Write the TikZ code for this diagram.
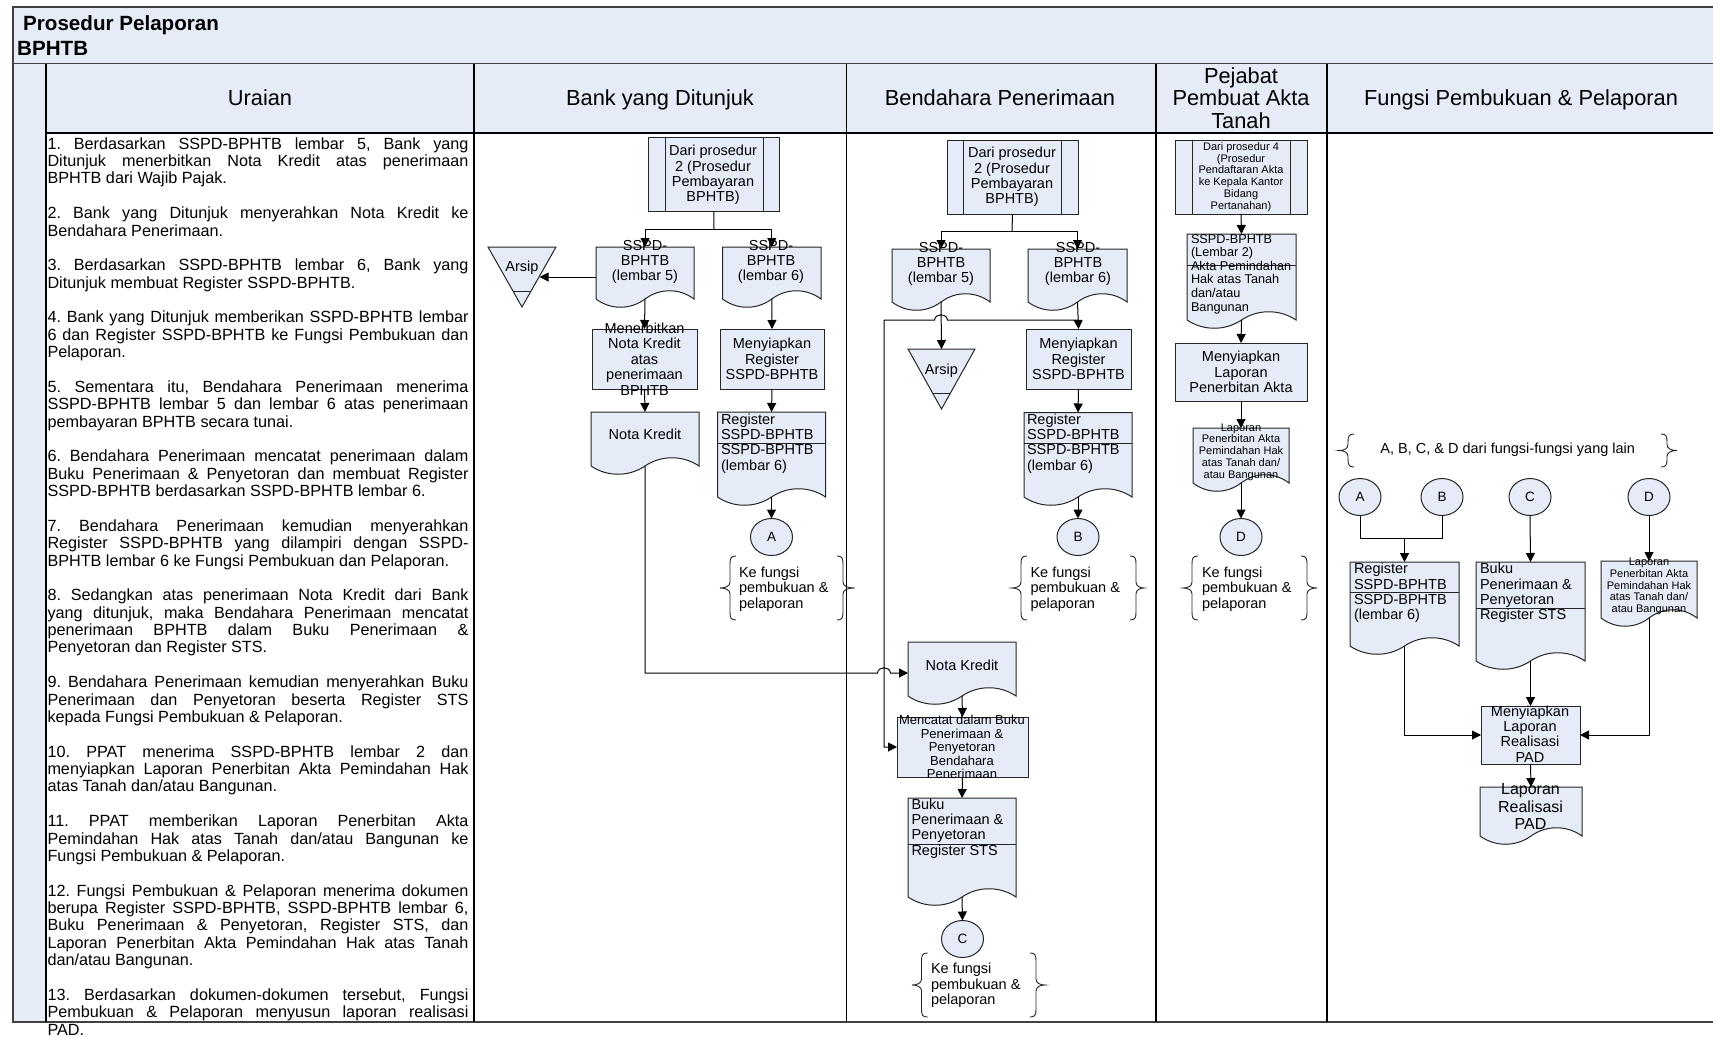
\documentclass[tikz,border=0pt]{standalone}
\usepackage{fontspec}
\setmainfont{Liberation Sans}
\usetikzlibrary{arrows.meta,shapes.geometric,calc}
\definecolor{paleblue}{HTML}{E5ECF7}
\definecolor{framegrey}{HTML}{404040}
\newcommand\fsz[2]{\fontsize{#1}{#2}\selectfont}
\newcommand\jl[1]{\hbox to 421pt{#1}\\}
\newcommand\gap{\mbox{}\\}
\frenchspacing
\tikzset{
  x=1pt,y=-1pt,
  frameline/.style={draw=framegrey,line width=1.8pt},
  colline/.style={draw=black,line width=1.1pt},
  shapeline/.style={draw=black!85,line width=1pt,fill=paleblue},
  anchorbox/.style={draw=none,fill=none,rectangle,inner sep=0pt,outer sep=0pt},
  conn/.style={draw=black,line width=1pt},
  arr/.style={conn,-{Triangle[length=9pt,width=9pt]}},
  procbox/.style={rectangle,draw=black!85,line width=1pt,fill=paleblue,inner sep=0pt,outer sep=0pt},
  circ/.style={ellipse,draw=black!85,line width=1pt,fill=paleblue,minimum width=42pt,minimum height=37pt,inner sep=0pt,outer sep=0pt,font=\fsz{13.5}{15}},
  txt/.style={align=center,inner sep=0pt,outer sep=0pt,font=\fsz{14.5}{15.4}},
  ltxt/.style={align=left,anchor=west,inner sep=0pt,outer sep=0pt,font=\fsz{14.5}{15.4}},
  smalltxt/.style={align=center,inner sep=0pt,outer sep=0pt,font=\fsz{11}{11.7}},
  headtxt/.style={align=center,inner sep=0pt,outer sep=0pt,font=\fsz{21.8}{22.6}},
  bracetxt/.style={align=left,anchor=west,inner sep=0pt,outer sep=0pt,font=\fsz{14.5}{15.5}},
  bracel/.style={draw=black!85,line width=0.9pt},
}
% name, x1, ytop, x2, y of wave ends
\newcommand\docshape[5]{%
  \pgfmathsetmacro\dw{#4-(#2)}%
  \pgfmathsetmacro\dxm{#2+0.5*\dw}%
  \pgfmathsetmacro\dcA{#2+0.15*\dw}%
  \pgfmathsetmacro\dcB{#2+0.35*\dw}%
  \pgfmathsetmacro\dcC{#2+0.65*\dw}%
  \pgfmathsetmacro\dcD{#2+0.85*\dw}%
  \pgfmathsetmacro\dyU{#5+11}%
  \pgfmathsetmacro\dyD{#5-11}%
  \pgfmathsetmacro\dym{0.5*(#3+#5)}%
  \pgfmathsetmacro\dh{#5-(#3)}%
  \draw[shapeline] (#2,#3) -- (#4,#3) -- (#4,#5)
     .. controls (\dcD,\dyD) and (\dcC,\dyD) .. (\dxm,#5)
     .. controls (\dcB,\dyU) and (\dcA,\dyU) .. (#2,#5) -- cycle;
  \node[anchorbox,minimum width=\dw pt,minimum height=\dh pt] (#1) at (\dxm,\dym) {};
}
% name, x1, x inner 1, x inner 2, x2, y1, y2
\newcommand\predef[7]{%
  \pgfmathsetmacro\dw{#5-(#2)}%
  \pgfmathsetmacro\dh{#7-(#6)}%
  \pgfmathsetmacro\dxm{0.5*(#2+#5)}%
  \pgfmathsetmacro\dym{0.5*(#6+#7)}%
  \node[procbox,minimum width=\dw pt,minimum height=\dh pt] (#1) at (\dxm,\dym) {};
  \draw[black!85,line width=1pt] (#3,#6) -- (#3,#7) (#4,#6) -- (#4,#7);
}
% name, x1, x2, y1, y2
\newcommand\procbox[5]{%
  \pgfmathsetmacro\dw{#3-(#2)}%
  \pgfmathsetmacro\dh{#5-(#4)}%
  \pgfmathsetmacro\dxm{0.5*(#2+#3)}%
  \pgfmathsetmacro\dym{0.5*(#4+#5)}%
  \node[procbox,minimum width=\dw pt,minimum height=\dh pt] (#1) at (\dxm,\dym) {};
}
% name, x1, x2, ytop, yapex, yinner
\newcommand\arsip[6]{%
  \pgfmathsetmacro\dw{#3-(#2)}%
  \pgfmathsetmacro\dh{#5-(#4)}%
  \pgfmathsetmacro\dxm{0.5*(#2+#3)}%
  \pgfmathsetmacro\dym{0.5*(#4+#5)}%
  \pgfmathsetmacro\dfr{(#6-(#4))/\dh*0.5*\dw}%
  \pgfmathsetmacro\dxa{#2+\dfr}%
  \pgfmathsetmacro\dxb{#3-\dfr}%
  \draw[shapeline] (#2,#4) -- (#3,#4) -- (\dxm,#5) -- cycle;
  \draw[black!85,line width=1pt] (\dxa,#6) -- (\dxb,#6);
  \node[anchorbox,minimum width=\dw pt,minimum height=\dh pt] (#1) at (\dxm,\dym) {};
}
% tip L, stem L, stem R, tip R, top, bottom
\newcommand\bracepair[6]{%
  \pgfmathsetmacro\mid{0.5*(#5+#6)}%
  \draw[bracel]
    ($(#2,#5)+(6,0)$) .. controls ($(#2,#5)+(1,0)$) and ($(#2,#5)+(0,2)$) .. ($(#2,#5)+(0,8)$)
    -- ($(#2,\mid)+(0,-6)$) .. controls ($(#2,\mid)+(0,-2)$) and ($(#2,\mid)+(-4,0)$) .. (#1,\mid)
    .. controls ($(#2,\mid)+(-4,0)$) and ($(#2,\mid)+(0,2)$) .. ($(#2,\mid)+(0,6)$)
    -- ($(#2,#6)+(0,-8)$) .. controls ($(#2,#6)+(0,-2)$) and ($(#2,#6)+(1,0)$) .. ($(#2,#6)+(6,0)$);
  \draw[bracel]
    ($(#3,#5)+(-6,0)$) .. controls ($(#3,#5)+(-1,0)$) and ($(#3,#5)+(0,2)$) .. ($(#3,#5)+(0,8)$)
    -- ($(#3,\mid)+(0,-6)$) .. controls ($(#3,\mid)+(0,-2)$) and ($(#3,\mid)+(4,0)$) .. (#4,\mid)
    .. controls ($(#3,\mid)+(4,0)$) and ($(#3,\mid)+(0,2)$) .. ($(#3,\mid)+(0,6)$)
    -- ($(#3,#6)+(0,-8)$) .. controls ($(#3,#6)+(0,-2)$) and ($(#3,#6)+(-1,0)$) .. ($(#3,#6)+(-6,0)$);
}
\begin{document}
\begin{tikzpicture}
\useasboundingbox (0,0) rectangle (1713,1036);
\fill[white] (0,0) rectangle (1713,1036);
% backgrounds
\fill[paleblue] (13,7) rectangle (1713,63.5);
\fill[paleblue] (13,63.5) rectangle (46,1022);
\fill[paleblue] (46,63.5) rectangle (1713,133);
% frame
\draw[frameline] (1713,7) -- (13,7) -- (13,1022) -- (1713,1022);
\draw[frameline] (13,63.5) -- (1713,63.5);
\draw[colline] (46,63.5) -- (46,1022);
\draw[colline] (46,133) -- (1713,133);
\draw[colline] (474,63.5) -- (474,1022);
\draw[colline] (846.4,63.5) -- (846.4,1022);
\draw[colline] (1156,63.5) -- (1156,1022);
\draw[colline] (1327,63.5) -- (1327,1022);
% title and headers
\node[inner sep=0pt,anchor=west,font=\bfseries\fsz{20.6}{22}] (titleA) at (23,25.5) {Prosedur Pelaporan};
\node[inner sep=0pt,anchor=west,font=\bfseries\fsz{20.6}{22}] (titleB) at (17,48.5) {BPHTB};
\node[headtxt,anchor=base] (hU) at (260,105.5) {Uraian};
\node[headtxt,anchor=base] (hB) at (660,105.5) {Bank yang Ditunjuk};
\node[headtxt,anchor=base] (hP) at (1000,105.5) {Bendahara Penerimaan};
\node[headtxt] (hA) at (1241,98) {Pejabat\\Pembuat Akta\\Tanah};
\node[headtxt,anchor=base] (hF) at (1521,105.5) {Fungsi Pembukuan \& Pelaporan};
% description text
\node[align=left,anchor=north west,inner sep=0pt,outer sep=0pt,font=\fsz{16.2}{17.37}] (uraian) at (47.5,137.5) {%
\jl{1. Berdasarkan SSPD-BPHTB lembar 5, Bank yang}
\jl{Ditunjuk menerbitkan Nota Kredit atas penerimaan}
BPHTB dari Wajib Pajak.\\
\gap
\jl{2. Bank yang Ditunjuk menyerahkan Nota Kredit ke}
Bendahara Penerimaan.\\
\gap
\jl{3. Berdasarkan SSPD-BPHTB lembar 6, Bank yang}
Ditunjuk membuat Register SSPD-BPHTB.\\
\gap
\jl{4. Bank yang Ditunjuk memberikan SSPD-BPHTB lembar}
\jl{6 dan Register SSPD-BPHTB ke Fungsi Pembukuan dan}
Pelaporan.\\
\gap
\jl{5. Sementara itu, Bendahara Penerimaan menerima}
\jl{SSPD-BPHTB lembar 5 dan lembar 6 atas penerimaan}
pembayaran BPHTB secara tunai.\\
\gap
\jl{6. Bendahara Penerimaan mencatat penerimaan dalam}
\jl{Buku Penerimaan \& Penyetoran dan membuat Register}
SSPD-BPHTB berdasarkan SSPD-BPHTB lembar 6.\\
\gap
\jl{7. Bendahara Penerimaan kemudian menyerahkan}
\jl{Register SSPD-BPHTB yang dilampiri dengan SSPD-}
BPHTB lembar 6 ke Fungsi Pembukuan dan Pelaporan.\\
\gap
\jl{8. Sedangkan atas penerimaan Nota Kredit dari Bank}
\jl{yang ditunjuk, maka Bendahara Penerimaan mencatat}
\jl{penerimaan BPHTB dalam Buku Penerimaan \&}
Penyetoran dan Register STS.\\
\gap
\jl{9. Bendahara Penerimaan kemudian menyerahkan Buku}
\jl{Penerimaan dan Penyetoran beserta Register STS}
kepada Fungsi Pembukuan \& Pelaporan.\\
\gap
\jl{10. PPAT menerima SSPD-BPHTB lembar 2 dan}
\jl{menyiapkan Laporan Penerbitan Akta Pemindahan Hak}
atas Tanah dan/atau Bangunan.\\
\gap
\jl{11. PPAT memberikan Laporan Penerbitan Akta}
\jl{Pemindahan Hak atas Tanah dan/atau Bangunan ke}
Fungsi Pembukuan \& Pelaporan.\\
\gap
\jl{12. Fungsi Pembukuan \& Pelaporan menerima dokumen}
\jl{berupa Register SSPD-BPHTB, SSPD-BPHTB lembar 6,}
\jl{Buku Penerimaan \& Penyetoran, Register STS, dan}
\jl{Laporan Penerbitan Akta Pemindahan Hak atas Tanah}
dan/atau Bangunan.\\
\gap
\jl{13. Berdasarkan dokumen-dokumen tersebut, Fungsi}
\jl{Pembukuan \& Pelaporan menyusun laporan realisasi}
PAD.};
% ---------- Bank
\predef{bp}{648}{665}{763}{779.5}{137}{211}
\docshape{bd5}{596}{247}{694}{299}
\docshape{bd6}{722.5}{247}{821}{299}
\arsip{bar}{488}{556}{247}{307}{291}
\procbox{bm1}{592}{697}{329}{389}
\procbox{bm2}{720}{824}{329}{389}
\docshape{bnk}{591}{412}{699}{466}
\docshape{breg}{717.5}{412}{825.5}{497}
\draw[black!85,line width=1pt] (717.5,443) -- (825.5,443);
\node[circ] (cA) at (771.5,537) {A};
\bracepair{720}{730}{843}{855}{556}{620}
% ---------- Bendahara
\predef{pp}{947}{963}{1061}{1078}{140}{214}
\docshape{pd5}{892}{249}{990}{302}
\docshape{pd6}{1028}{249}{1127}{302}
\arsip{par}{908}{975}{349}{409}{393}
\procbox{pm2}{1026}{1131}{329}{389}
\docshape{preg}{1024}{412.5}{1132}{497}
\draw[black!85,line width=1pt] (1024,443) -- (1132,443);
\node[circ] (cB) at (1078,537) {B};
\bracepair{1012}{1021}{1136}{1144}{556}{620}
\docshape{pnk}{908}{642}{1016}{696}
\procbox{pmc}{897}{1028}{717}{777}
\docshape{pbk}{908}{798}{1016}{897}
\draw[black!85,line width=1pt] (908,844) -- (1016,844);
\node[circ] (cC) at (962.5,939) {C};
\bracepair{912}{921.5}{1036}{1045}{953}{1017}
% ---------- PPAT
\predef{ap}{1175}{1192}{1290}{1307}{140}{214}
\docshape{adoc}{1187}{234}{1296}{320}
\draw[black!85,line width=1pt] (1187,265) -- (1296,265);
\procbox{am}{1175}{1307}{343}{401}
\docshape{alap}{1193}{428}{1289}{483}
\node[circ] (cD) at (1241,537) {D};
\bracepair{1183}{1192}{1307}{1317}{556}{620}
% ---------- Fungsi
\bracepair{1339}{1348}{1667}{1677}{434}{467}
\node[circ] (fA) at (1360,497) {A};
\node[circ] (fB) at (1442,497) {B};
\node[circ] (fC) at (1530,497) {C};
\node[circ] (fD) at (1649,497) {D};
\docshape{freg}{1350}{562}{1459}{646}
\draw[black!85,line width=1pt] (1350,592) -- (1459,592);
\docshape{fbk}{1476}{562}{1585}{661}
\draw[black!85,line width=1pt] (1476,608) -- (1585,608);
\docshape{flap}{1601}{561}{1697}{618}
\procbox{fm}{1481}{1580}{706}{764}
\docshape{fout}{1480}{787}{1582}{836}
% ---------- connectors
\coordinate (bj) at (714,229);
\draw[conn] (bp.south) -- (bj);
\draw[arr] (bj) -| (bd5.north);
\draw[arr] (bj) -| (bd6.north);
\coordinate (barIn) at (539.5,277);
\draw[arr] (bd5.west |- barIn) -- (barIn);
\draw[arr] (bd5.south) -- (bm1.north);
\draw[arr] (bd6.south) -- (bm2.north);
\draw[arr] (bm1.south) -- (bnk.north);
\draw[arr] (bm2.south) -- (breg.north);
\draw[arr] (breg.south) -- (cA.north);
\coordinate (pj) at (1012,231);
\draw[conn] (pp.south) -- (pj);
\draw[arr] (pj) -| (pd5.north);
\draw[arr] (pj) -| (pd6.north);
\draw[arr] (pd5.south) -- (par.north);
\draw[arr] (pd6.south) -- (pm2.north);
\draw[arr] (pm2.south) -- (preg.north);
\draw[arr] (preg.south) -- (cB.north);
\coordinate (tee) at (pm2.north |- 0,320);
\coordinate (jumpA) at (947.5,320);
\coordinate (jumpB) at (934.5,320);
\coordinate (elbow) at (884,320);
\draw[arr] (tee) -- (jumpA) .. controls (946.5,313) and (935.5,313) .. (jumpB) -- (elbow) |- (pmc.west);
\coordinate (nkIn) at (908,673);
\coordinate (jumpC) at (877.5,673);
\coordinate (jumpD) at (890.5,673);
\draw[arr] (bnk.south) |- (jumpC) .. controls (878.5,666) and (889.5,666) .. (jumpD) -- (nkIn);
\draw[arr] (pnk.south) -- (pmc.north);
\draw[arr] (pmc.south) -- (pbk.north);
\draw[arr] (pbk.south) -- (cC.north);
\draw[arr] (ap.south) -- (adoc.north);
\draw[arr] (adoc.south) -- (am.north);
\draw[arr] (am.south) -- (alap.north);
\draw[arr] (alap.south) -- (cD.north);
\coordinate (fj) at (1404.5,538);
\draw[conn] (fA.south) |- (fj);
\draw[conn] (fB.south) |- (fj);
\draw[arr] (fj) -- (freg.north);
\draw[arr] (fC.south) -- (fbk.north);
\draw[arr] (fD.south) -- (flap.north);
\draw[arr] (freg.south) |- (fm.west);
\draw[arr] (fbk.south) -- (fm.north);
\draw[arr] (flap.south) |- (fm.east);
\draw[arr] (fm.south) -- (fout.north);
% ---------- shape texts, bank
\node[txt] (tbp) at (713,175) {Dari prosedur\\2 (Prosedur\\Pembayaran\\BPHTB)};
\node[txt] (tbd5) at (645,262) {SSPD-\\BPHTB\\(lembar 5)};
\node[txt] (tbd6) at (771,262) {SSPD-\\BPHTB\\(lembar 6)};
\node[txt] (tbar) at (522,268) {Arsip};
\node[txt] (tbm1) at (644.5,359) {Menerbitkan\\Nota Kredit\\atas\\penerimaan\\BPHTB};
\node[txt] (tbm2) at (772,359) {Menyiapkan\\Register\\SSPD-BPHTB};
\node[txt] (tbnk) at (645,434) {Nota Kredit};
\node[ltxt] (tbreg) at (721,443.5) {Register\\SSPD-BPHTB\\SSPD-BPHTB\\(lembar 6)};
\node[bracetxt] (tbb) at (739,589) {Ke fungsi\\pembukuan \&\\pelaporan};
% bendahara
\node[txt] (tpp) at (1012,177) {Dari prosedur\\2 (Prosedur\\Pembayaran\\BPHTB)};
\node[txt] (tpd5) at (941,264) {SSPD-\\BPHTB\\(lembar 5)};
\node[txt] (tpd6) at (1078,264) {SSPD-\\BPHTB\\(lembar 6)};
\node[txt] (tpar) at (941.5,371) {Arsip};
\node[txt] (tpm2) at (1078.5,359) {Menyiapkan\\Register\\SSPD-BPHTB};
\node[ltxt] (tpreg) at (1027,443.5) {Register\\SSPD-BPHTB\\SSPD-BPHTB\\(lembar 6)};
\node[bracetxt] (tpb) at (1030.5,589) {Ke fungsi\\pembukuan \&\\pelaporan};
\node[txt] (tpnk) at (962,665) {Nota Kredit};
\node[align=center,inner sep=0pt,outer sep=0pt,font=\fsz{13}{13.5}] (tpmc) at (962,747) {Mencatat dalam Buku\\Penerimaan \&\\Penyetoran\\Bendahara\\Penerimaan};
\node[ltxt] (tpbk) at (911.5,828.5) {Buku\\Penerimaan \&\\Penyetoran\\Register STS};
\node[bracetxt] (tpc) at (931,985.5) {Ke fungsi\\pembukuan \&\\pelaporan};
% ppat
\node[smalltxt] (tap) at (1241,177) {Dari prosedur 4\\(Prosedur\\Pendaftaran Akta\\ke Kepala Kantor\\Bidang\\Pertanahan)};
\node[align=left,anchor=west,inner sep=0pt,outer sep=0pt,font=\fsz{12.7}{13.6}] (tadoc) at (1191,274) {SSPD-BPHTB\\(Lembar 2)\\Akta Pemindahan\\Hak atas Tanah\\dan/atau\\Bangunan};
\node[txt] (tam) at (1241,372) {Menyiapkan\\Laporan\\Penerbitan Akta};
\node[smalltxt] (talap) at (1241,452) {Laporan\\Penerbitan Akta\\Pemindahan Hak\\atas Tanah dan/\\atau Bangunan};
\node[bracetxt] (tab) at (1202,589) {Ke fungsi\\pembukuan \&\\pelaporan};
% fungsi
\node[align=center,inner sep=0pt,font=\fsz{14.5}{15}] (tfb) at (1507.7,450) {A, B, C, \& D dari fungsi-fungsi yang lain};
\node[ltxt] (tfreg) at (1354,593) {Register\\SSPD-BPHTB\\SSPD-BPHTB\\(lembar 6)};
\node[ltxt] (tfbk) at (1480,593) {Buku\\Penerimaan \&\\Penyetoran\\Register STS};
\node[smalltxt] (tflap) at (1649,586.5) {Laporan\\Penerbitan Akta\\Pemindahan Hak\\atas Tanah dan/\\atau Bangunan};
\node[txt] (tfm) at (1530,734) {Menyiapkan\\Laporan\\Realisasi\\PAD};
\node[align=center,inner sep=0pt,outer sep=0pt,font=\fsz{16}{17.2}] (tfout) at (1530.5,806.5) {Laporan\\Realisasi\\PAD};
\end{tikzpicture}
\end{document}
